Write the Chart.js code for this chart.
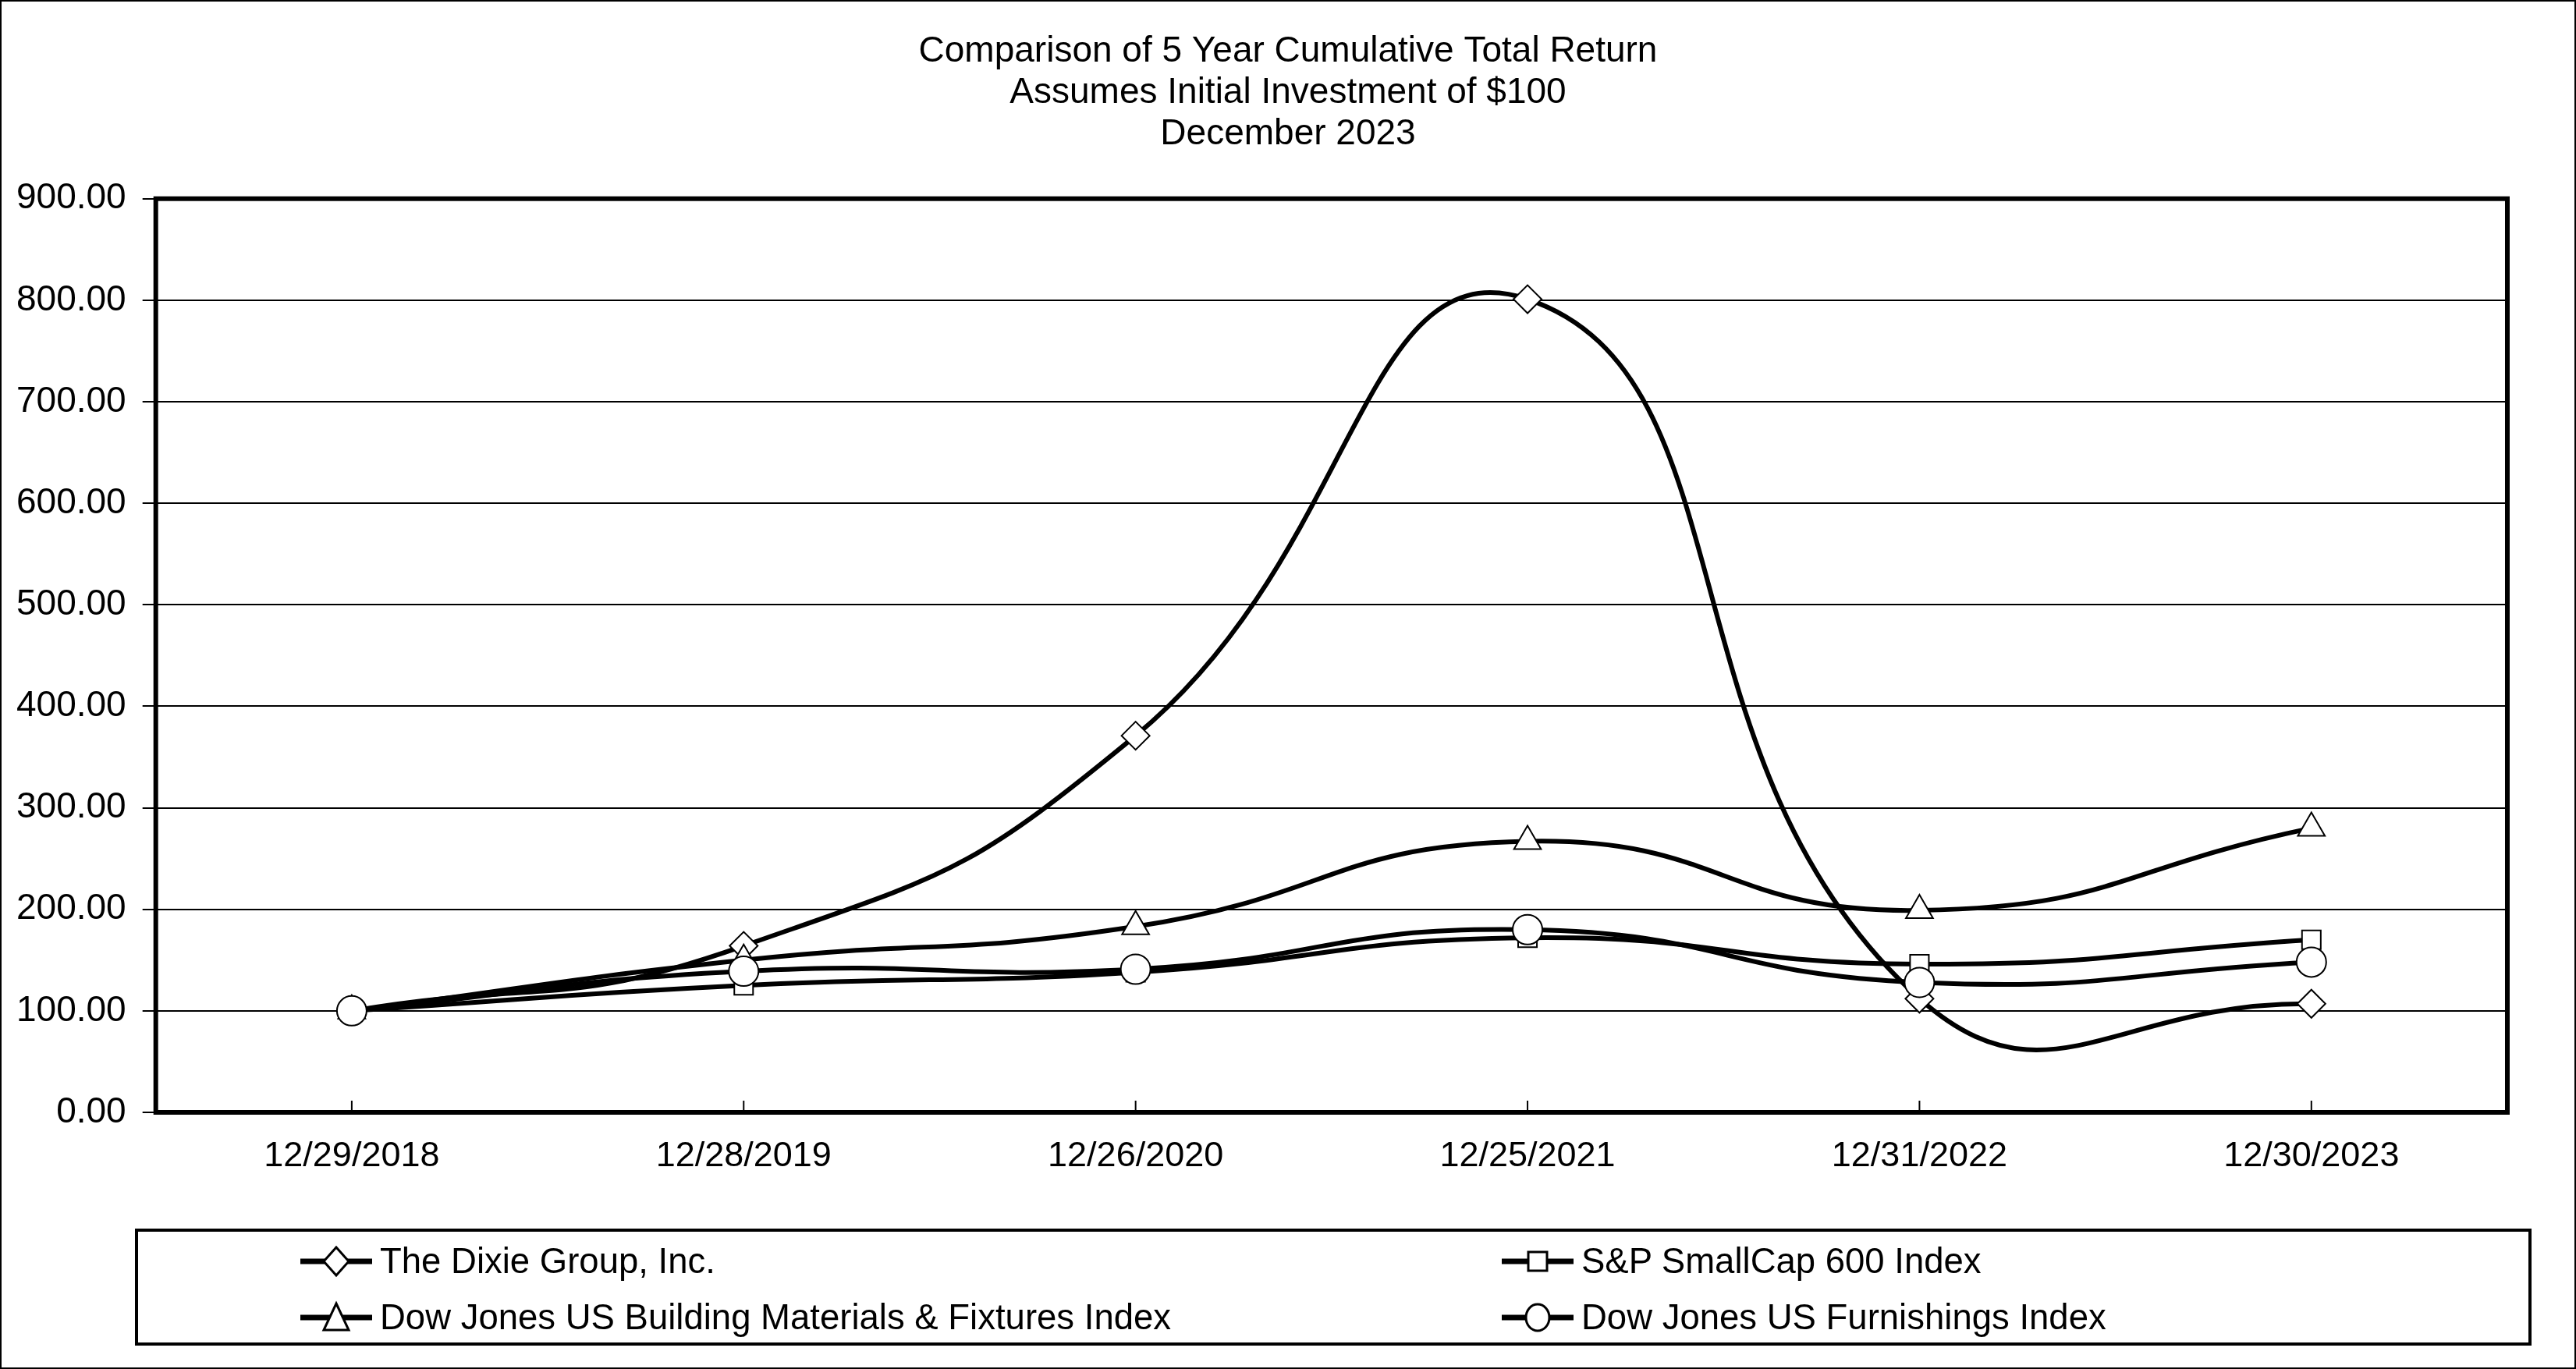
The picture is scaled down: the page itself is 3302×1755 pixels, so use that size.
<!DOCTYPE html>
<html>
<head>
<meta charset="utf-8">
<script src="https://cdn.jsdelivr.net/npm/chart.js@4/dist/chart.umd.min.js"></script>
<style>
  html, body { margin: 0; padding: 0; background: #fff; }
  #wrap { position: relative; width: 3302px; height: 1755px; overflow: hidden; }
  #frame { position: absolute; left: 0; top: 0; width: 3298px; height: 1751px; border: 2px solid #000; pointer-events: none; }
  #chart { position: absolute; left: 0; top: 0; }
  #legend { position: absolute; left: 173px; top: 1575px; width: 3064px; height: 142px; border: 4px solid #000;
            font-family: "Liberation Sans", Arial, sans-serif; font-size: 45.5px; color: #000; }
  .item { position: absolute; display: flex; align-items: center; white-space: nowrap; }
  .item svg { margin-right: 10px; }
</style>
</head>
<body>
<div id="wrap">
  <canvas id="chart" width="3302" height="1755"></canvas>
  <div id="legend"></div>
  <div id="frame"></div>
</div>
<script>
// Kategorier (x-axel)
const dates = ['12/29/2018', '12/28/2019', '12/26/2020', '12/25/2021', '12/31/2022', '12/30/2023'];

// Serier
const seriesNames = [
    'The Dixie Group, Inc.',
    'S&P SmallCap 600 Index',
    'Dow Jones US Building Materials & Fixtures Index',
    'Dow Jones US Furnishings Index'
];
const dixie = [100, 164, 371, 801, 112, 107];
const smallCap = [100, 125, 138, 172, 146, 170];
const building = [100, 150, 183, 267, 199, 280];
const furnishings = [100, 139, 141, 180, 128, 148];

// Y-axelns tickvärden
const yTicks = [0, 100, 200, 300, 400, 500, 600, 700, 800, 900];

const markers = ['rectRot', 'rect', 'triangle', 'circle'];
const markerSizes = [18, 17, 20, 19];
const allSeries = [dixie, smallCap, building, furnishings];

const FONT = '"Liberation Sans", Arial, sans-serif';

// Ram runt ritytan och små tickmarkeringar på x-axeln
const framePlugin = {
    id: 'frame',
    afterDatasetsDraw(chart) {
        const { ctx, chartArea: a, scales } = chart;
        ctx.save();
        ctx.strokeStyle = '#000';
        ctx.lineWidth = 2;
        const x = scales.x;
        dates.forEach((d, i) => {
            const px = x.getPixelForValue(i);
            ctx.beginPath();
            ctx.moveTo(px, a.bottom);
            ctx.lineTo(px, a.bottom - 15);
            ctx.stroke();
        });
        ctx.lineWidth = 6;
        ctx.strokeRect(a.left, a.top, a.right - a.left, a.bottom - a.top);
        ctx.restore();
    }
};

const datasets = seriesNames.map((name, i) => ({
    label: name,
    data: allSeries[i],
    borderColor: '#000',
    borderWidth: 6,
    tension: 0.5,
    pointStyle: markers[i],
    pointRadius: markerSizes[i],
    pointBackgroundColor: '#fff',
    pointBorderColor: '#000',
    pointBorderWidth: 2,
    order: 4 - i
}));

new Chart(document.getElementById('chart').getContext('2d'), {
    type: 'line',
    data: { labels: dates, datasets: datasets },
    options: {
        responsive: false,
        animation: false,
        layout: { padding: { left: 0, right: 0, top: 0, bottom: 223 } },
        plugins: {
            legend: { display: false },
            tooltip: { enabled: false },
            title: {
                display: true,
                text: ['Comparison of 5 Year Cumulative Total Return', 'Assumes Initial Investment of $100', 'December 2023'],
                color: '#000',
                font: { family: FONT, size: 46, weight: 'normal', lineHeight: 1.15 },
                padding: { top: 40, bottom: 56 }
            }
        },
        scales: {
            x: {
                offset: true,
                grid: { display: false },
                border: { display: false },
                ticks: { color: '#000', font: { family: FONT, size: 45 }, padding: 22, maxRotation: 0 }
            },
            y: {
                min: 0,
                max: 900,
                afterBuildTicks(scale) { scale.ticks = yTicks.map(v => ({ value: v })); },
                grid: { color: '#000', lineWidth: 2, tickLength: 17 },
                border: { display: false },
                ticks: {
                    color: '#000',
                    font: { family: FONT, size: 46 },
                    padding: 21,
                    callback: v => v.toFixed(2)
                }
            },
            // tom högeraxel som bara ger marginal till höger
            yRight: {
                position: 'right',
                min: 0,
                max: 900,
                grid: { display: false },
                border: { display: false },
                ticks: { display: false },
                afterFit(scale) { scale.width = 88; }
            }
        }
    },
    plugins: [framePlugin]
});

// Legend som HTML med linje + markör
function symbolSvg(style) {
    let m = '';
    if (style === 'rectRot') m = '<polygon points="46,6 62,24 46,42 30,24" fill="#fff" stroke="#000" stroke-width="3"/>';
    if (style === 'rect') m = '<rect x="34" y="12" width="24" height="24" fill="#fff" stroke="#000" stroke-width="3"/>';
    if (style === 'triangle') m = '<polygon points="46,6 62,40 30,40" fill="#fff" stroke="#000" stroke-width="3"/>';
    if (style === 'circle') m = '<ellipse cx="46" cy="24" rx="15" ry="17" fill="#fff" stroke="#000" stroke-width="3"/>';
    return '<svg width="92" height="48"><line x1="0" y1="24" x2="92" y2="24" stroke="#000" stroke-width="7"/>' + m + '</svg>';
}

const legendPos = [[208, 12], [1748, 12], [208, 84], [1748, 84]];
const legendEl = document.getElementById('legend');
seriesNames.forEach((name, i) => {
    const div = document.createElement('div');
    div.className = 'item';
    div.style.left = legendPos[i][0] + 'px';
    div.style.top = legendPos[i][1] + 'px';
    div.innerHTML = symbolSvg(markers[i]);
    const span = document.createElement('span');
    span.textContent = name;
    div.appendChild(span);
    legendEl.appendChild(div);
});
</script>
</body>
</html>
